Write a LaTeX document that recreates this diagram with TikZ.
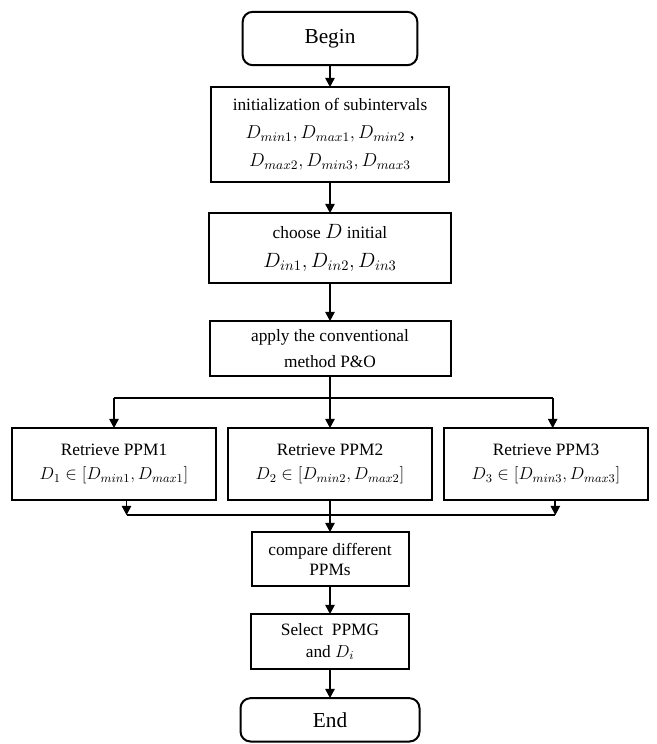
\RequirePackage{fix-cm}
\documentclass[tikz,border=0pt]{standalone}
\usepackage{fontspec}
\setmainfont{Liberation Serif}
\usetikzlibrary{arrows.meta, positioning, calc}

\begin{document}
\begin{tikzpicture}[
  x=0.75pt, y=-0.75pt,
  font=\fontsize{13}{16}\selectfont,
  box/.style={rectangle, draw, line width=1.5pt, align=center, inner sep=2pt, outer sep=0pt},
  terminal/.style={box, rounded corners=7.5pt, font=\fontsize{16}{19}\selectfont},
  retrieve/.style={box, minimum width=153pt, minimum height=54pt},
  arrow/.style={-{Triangle[width=7pt,length=7pt]}, line width=1.3pt},
  line/.style={line width=1.3pt}
]
\useasboundingbox (0,0) rectangle (657,744);

\node[terminal, minimum width=131pt, minimum height=40pt] (begin) at (330,38.5) {Begin};
\node[box, below=16.5pt of begin, minimum width=179pt, minimum height=71.25pt] (init)
  {initialization of subintervals\\[5pt] \fontsize{14}{16}\selectfont $D_{min1}, D_{max1}, D_{min2}$ ,\\[5pt] \fontsize{14}{16}\selectfont $D_{max2}, D_{min3}, D_{max3}$};
\node[box, below=23.25pt of init, minimum width=181.5pt, minimum height=52.5pt] (choose)
  {choose \fontsize{15.5}{16}\selectfont$D$\fontsize{13}{16}\selectfont{} initial\\[6pt] \fontsize{15.5}{16}\selectfont $D_{in1}, D_{in2}, D_{in3}$};
\node[box, below=28.5pt of choose, minimum width=180.75pt, minimum height=41.25pt] (apply)
  {apply the conventional\\[4pt] method P\&O};

% three sub-intervals
\node[retrieve, below=39pt of apply] (r2) {Retrieve PPM2\\[2pt] $D_2 \in [D_{min2}, D_{max2}]$};
\node[retrieve, left=9pt of r2] (r1) {Retrieve PPM1\\[2pt] $D_1 \in [D_{min1}, D_{max1}]$};
\node[retrieve, right=9pt of r2] (r3) {Retrieve PPM3\\[2pt] $D_3 \in [D_{min3}, D_{max3}]$};

\node[box, below=24pt of r2, minimum width=117.75pt, minimum height=40.5pt] (compare)
  {compare different\\[-1pt] PPMs};
\node[box, below=21pt of compare, minimum width=118.5pt, minimum height=41.25pt] (select)
  {Select\ \ PPMG\\[0.5pt] and $D_i$};
\node[terminal, below=21.75pt of select, minimum width=134.25pt, minimum height=32.5pt] (end) {End};

\draw[arrow] (begin) -- (init);
\draw[arrow] (init) -- (choose);
\draw[arrow] (choose) -- (apply);
\draw[arrow] (apply) -- (r2);

% branch
\coordinate[below=16.5pt of apply.south] (split);
\coordinate (r3in) at ([xshift=5pt]r3.north);
\draw[line] (split -| r1.north) -- (split -| r3in);
\draw[arrow] (split -| r1.north) -- (r1.north);
\draw[arrow] (split -| r3in) -- (r3in);

% merge
\coordinate (r1out) at ([xshift=9.4pt]r1.south);
\coordinate (r3out) at ([xshift=7pt]r3.south);
\coordinate[below=11.25pt of r2.south] (merge);
\draw[arrow] (r1out) -- (r1out |- merge);
\draw[arrow] (r3out) -- (r3out |- merge);
\draw[line] (r1out |- merge) -- (r3out |- merge);
\draw[arrow] (r2) -- (compare);

\draw[arrow] (compare) -- (select);
\draw[arrow] (select) -- (end);

\end{tikzpicture}
\end{document}
